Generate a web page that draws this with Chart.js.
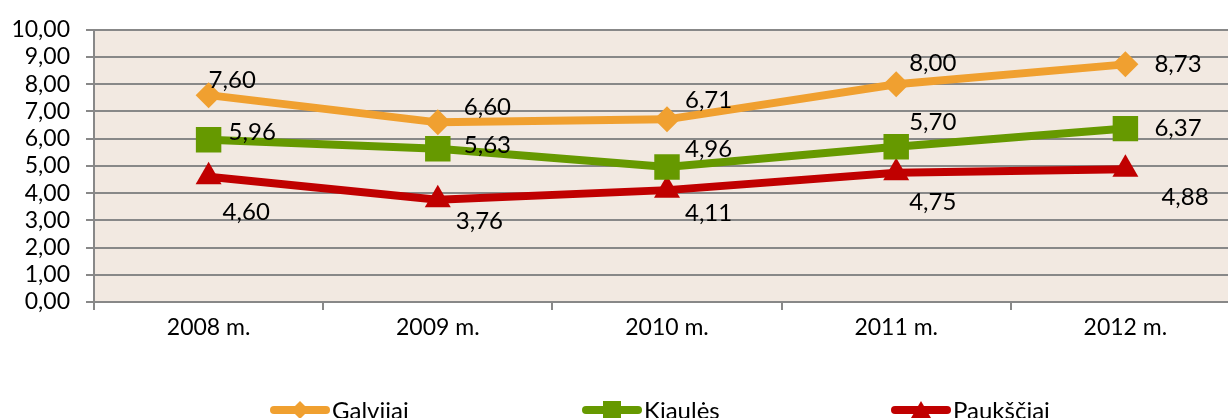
<!DOCTYPE html>
<html><head><meta charset="utf-8">
<script src="https://cdn.jsdelivr.net/npm/chart.js@4/dist/chart.umd.min.js"></script>
<style>
html,body{margin:0;padding:0;background:#fff;overflow:hidden;width:1228px;height:418px}
#wrap{width:1240px;height:418px;position:relative}
canvas{display:block;width:1240px;height:418px}
</style></head><body>
<div id="wrap"><canvas id="c" width="1240" height="418"></canvas></div>
<script>
const categories = ['2008 m.', '2009 m.', '2010 m.', '2011 m.', '2012 m.'];
const galvijai = [7.60, 6.60, 6.71, 8.00, 8.73];
const kiaules = [5.96, 5.63, 4.96, 5.70, 6.37];
const paukstiai = [4.60, 3.76, 4.11, 4.75, 4.88];
const seriesNames = ['Galvijai', 'Kiaulės', 'Paukščiai'];
const yTicks = [0,1,2,3,4,5,6,7,8,9,10];

const FONT = "Lato, 'Open Sans', sans-serif";
const colors = ['#F0A030', '#669900', '#C00000'];
const styles = ['rectRot', 'rect', 'triangle'];
const radii = [13, 18, 15];
// label offsets [dx to text left, dy to text middle]
const labelOffsets = [
  [[0,-15],[26,-15],[18,-19],[13,-21],[29,0]],
  [[20,-8],[26,-3],[18,-18],[13,-25],[29,0]],
  [[14,35],[18,22],[18,23],[13,30],[36,28]]
];
const fmt = v => v.toFixed(2).replace('.', ',');

const bgPlugin = {
  id: 'bg',
  beforeDraw(chart) {
    const {ctx, chartArea: a} = chart;
    ctx.save(); ctx.fillStyle = '#F2E9E1';
    ctx.fillRect(a.left, a.top, a.right - a.left, a.bottom - a.top);
    ctx.restore();
  }
};
const labelPlugin = {
  id: 'labels',
  afterDatasetsDraw(chart) {
    const ctx = chart.ctx;
    ctx.save();
    ctx.font = '24px ' + FONT; ctx.fillStyle = '#000';
    ctx.textAlign = 'left'; ctx.textBaseline = 'middle';
    chart.data.datasets.forEach((ds, i) => {
      chart.getDatasetMeta(i).data.forEach((pt, j) => {
        const o = labelOffsets[i][j];
        ctx.fillText(fmt(ds.data[j]), pt.x + o[0], pt.y + o[1]);
      });
    });
    ctx.restore();
  }
};
const legendPlugin = {
  id: 'legendCustom',
  afterDraw(chart) {
    const ctx = chart.ctx;
    const xs = [270, 582, 891];
    const y = 410;
    ctx.save();
    seriesNames.forEach((name, i) => {
      const x0 = xs[i], x1 = x0 + 60, cx = x0 + 30;
      ctx.strokeStyle = colors[i]; ctx.lineWidth = 8; ctx.lineCap = 'round';
      ctx.beginPath(); ctx.moveTo(x0 + 4, y); ctx.lineTo(x1 - 4, y); ctx.stroke();
      ctx.fillStyle = colors[i];
      ctx.beginPath();
      if (i === 0) { ctx.moveTo(cx, y - 9); ctx.lineTo(cx + 9, y); ctx.lineTo(cx, y + 9); ctx.lineTo(cx - 9, y); }
      else if (i === 1) { ctx.rect(cx - 9, y - 9, 18, 18); }
      else { ctx.moveTo(cx, y - 9); ctx.lineTo(cx + 10, y + 8); ctx.lineTo(cx - 10, y + 8); }
      ctx.closePath(); ctx.fill();
      ctx.fillStyle = '#000'; ctx.font = '24px ' + FONT;
      ctx.textAlign = 'left'; ctx.textBaseline = 'middle';
      ctx.fillText(name, x1 + 2, y + 1);
    });
    ctx.restore();
  }
};

const mk = (label, data, i) => ({
  label, data,
  borderColor: colors[i], backgroundColor: colors[i],
  borderWidth: 8, pointStyle: styles[i], pointRadius: radii[i],
  pointHoverRadius: radii[i], pointBorderWidth: 0, tension: 0
});

new Chart(document.getElementById('c'), {
  type: 'line',
  data: {
    labels: categories,
    datasets: [mk(seriesNames[0], galvijai, 0), mk(seriesNames[1], kiaules, 1), mk(seriesNames[2], paukstiai, 2)]
  },
  options: {
    responsive: false, animation: false, devicePixelRatio: 1,
    layout: { autoPadding: false, padding: { top: 26, right: 0, left: 0, bottom: 0 } },
    plugins: { legend: { display: false }, tooltip: { enabled: false } },
    scales: {
      x: {
        offset: true,
        grid: { drawOnChartArea: false, color: '#888', lineWidth: 2, tickLength: 8, offset: true },
        border: { color: '#888', width: 2 },
        ticks: { color: '#000', font: { family: FONT, size: 23 }, padding: 4, maxRotation: 0 },
        afterFit(s) { s.height = 116; }
      },
      y: {
        min: 0, max: 10,
        afterBuildTicks(s) { s.ticks = yTicks.map(v => ({ value: v })); },
        grid: { color: '#888', lineWidth: 2, tickLength: 8 },
        border: { color: '#888', width: 2 },
        ticks: { color: '#000', font: { family: FONT, size: 23 }, padding: 16, autoSkip: false, callback: v => fmt(v) },
        afterFit(s) { s.width = 94; }
      }
    }
  },
  plugins: [bgPlugin, labelPlugin, legendPlugin]
});
</script>
</body></html>
